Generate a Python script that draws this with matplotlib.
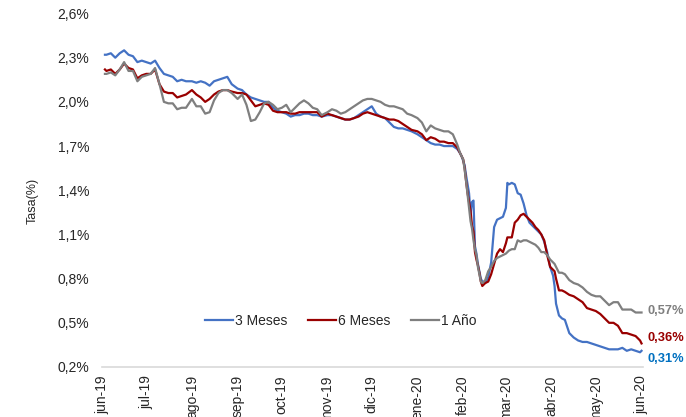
import matplotlib
matplotlib.use("Agg")
import matplotlib.pyplot as plt
import pandas as pd

plt.rcParams['font.family'] = ['Liberation Sans', 'DejaVu Sans']

dates = [
    '2019-06-03', '2019-06-04', '2019-06-07', '2019-06-10', '2019-06-13', '2019-06-16', '2019-06-19', '2019-06-22', '2019-06-25', '2019-06-28',
    '2019-07-01', '2019-07-04', '2019-07-07', '2019-07-10', '2019-07-13', '2019-07-16', '2019-07-19', '2019-07-22', '2019-07-25', '2019-07-28',
    '2019-08-01', '2019-08-04', '2019-08-07', '2019-08-10', '2019-08-13', '2019-08-16', '2019-08-19', '2019-08-22', '2019-08-25', '2019-08-28',
    '2019-09-01', '2019-09-04', '2019-09-07', '2019-09-10', '2019-09-13', '2019-09-16', '2019-09-19', '2019-09-22', '2019-09-25', '2019-09-28',
    '2019-10-01', '2019-10-04', '2019-10-07', '2019-10-10', '2019-10-13', '2019-10-16', '2019-10-19', '2019-10-22', '2019-10-25', '2019-10-28',
    '2019-11-01', '2019-11-04', '2019-11-07', '2019-11-10', '2019-11-13', '2019-11-16', '2019-11-19', '2019-11-22', '2019-11-25', '2019-11-28',
    '2019-12-01', '2019-12-04', '2019-12-07', '2019-12-10', '2019-12-13', '2019-12-16', '2019-12-19', '2019-12-22', '2019-12-25', '2019-12-28',
    '2020-01-01', '2020-01-04', '2020-01-07', '2020-01-10', '2020-01-13', '2020-01-16', '2020-01-19', '2020-01-22', '2020-01-25', '2020-01-28',
    '2020-01-30', '2020-01-31',
    '2020-02-01', '2020-02-02', '2020-02-03', '2020-02-04', '2020-02-05', '2020-02-06', '2020-02-07', '2020-02-08', '2020-02-09', '2020-02-10',
    '2020-02-11', '2020-02-12', '2020-02-13', '2020-02-14', '2020-02-16', '2020-02-18', '2020-02-20', '2020-02-22', '2020-02-24', '2020-02-26',
    '2020-02-28',
    '2020-03-01', '2020-03-02', '2020-03-03', '2020-03-05', '2020-03-07', '2020-03-09', '2020-03-11', '2020-03-13', '2020-03-15', '2020-03-17',
    '2020-03-19', '2020-03-21', '2020-03-23', '2020-03-25', '2020-03-27', '2020-03-29', '2020-03-31',
    '2020-04-02', '2020-04-03', '2020-04-04', '2020-04-06', '2020-04-08', '2020-04-10', '2020-04-13', '2020-04-16', '2020-04-19', '2020-04-22',
    '2020-04-25', '2020-04-28',
    '2020-05-01', '2020-05-04', '2020-05-07', '2020-05-10', '2020-05-13', '2020-05-16', '2020-05-19', '2020-05-22', '2020-05-25', '2020-05-28',
    '2020-05-31',
    '2020-06-01',
]

tasa_3m = [
    2.32, 2.32, 2.33, 2.30, 2.33, 2.35, 2.32, 2.31, 2.27, 2.28,
    2.27, 2.26, 2.28, 2.23, 2.19, 2.18, 2.17, 2.14, 2.15, 2.14,
    2.14, 2.13, 2.14, 2.13, 2.11, 2.14, 2.15, 2.16, 2.17, 2.12,
    2.09, 2.08, 2.05, 2.03, 2.02, 2.01, 2.00, 2.00, 1.96, 1.94,
    1.93, 1.92, 1.90, 1.91, 1.91, 1.92, 1.92, 1.91, 1.91, 1.90,
    1.91, 1.91, 1.90, 1.89, 1.88, 1.88, 1.89, 1.91, 1.93, 1.95,
    1.97, 1.92, 1.90, 1.89, 1.86, 1.83, 1.82, 1.82, 1.81, 1.80,
    1.78, 1.76, 1.74, 1.72, 1.71, 1.71, 1.70, 1.70, 1.70, 1.68,
    1.65, 1.63,
    1.60, 1.57, 1.50, 1.44, 1.38, 1.24, 1.32, 1.33, 1.02, 0.97,
    0.90, 0.85, 0.80, 0.78, 0.77, 0.81, 0.91, 1.15, 1.20, 1.21,
    1.22,
    1.28, 1.45, 1.44, 1.45, 1.44, 1.38, 1.37, 1.31, 1.23, 1.18,
    1.16, 1.14, 1.12, 1.10, 1.05, 0.98, 0.88,
    0.82, 0.75, 0.63, 0.55, 0.53, 0.52, 0.43, 0.40, 0.38, 0.37,
    0.37, 0.36,
    0.35, 0.34, 0.33, 0.32, 0.32, 0.32, 0.33, 0.31, 0.32, 0.31,
    0.30,
    0.31,
]

tasa_6m = [
    2.22, 2.21, 2.22, 2.19, 2.22, 2.26, 2.23, 2.22, 2.16, 2.18,
    2.19, 2.19, 2.22, 2.12, 2.07, 2.06, 2.06, 2.03, 2.04, 2.05,
    2.08, 2.05, 2.03, 2.00, 2.02, 2.05, 2.07, 2.08, 2.08, 2.07,
    2.06, 2.06, 2.05, 2.01, 1.97, 1.98, 1.99, 1.98, 1.94, 1.93,
    1.93, 1.93, 1.92, 1.92, 1.93, 1.93, 1.93, 1.93, 1.93, 1.90,
    1.92, 1.91, 1.90, 1.89, 1.88, 1.88, 1.89, 1.90, 1.92, 1.93,
    1.92, 1.91, 1.90, 1.89, 1.88, 1.88, 1.87, 1.85, 1.83, 1.81,
    1.80, 1.78, 1.74, 1.76, 1.75, 1.73, 1.73, 1.72, 1.72, 1.69,
    1.65, 1.63,
    1.61, 1.55, 1.46, 1.38, 1.32, 1.26, 1.16, 1.12, 0.98, 0.93,
    0.89, 0.84, 0.78, 0.75, 0.77, 0.78, 0.83, 0.90, 0.97, 1.00,
    0.98,
    1.04, 1.08, 1.08, 1.08, 1.18, 1.20, 1.23, 1.24, 1.22, 1.20,
    1.18, 1.15, 1.13, 1.10, 1.06, 0.96, 0.88,
    0.86, 0.85, 0.80, 0.72, 0.72, 0.71, 0.69, 0.68, 0.66, 0.64,
    0.60, 0.59,
    0.58, 0.56, 0.53, 0.50, 0.50, 0.48, 0.43, 0.43, 0.42, 0.41,
    0.38,
    0.36,
]

tasa_1a = [
    2.19, 2.19, 2.20, 2.18, 2.22, 2.27, 2.21, 2.21, 2.14, 2.17,
    2.18, 2.19, 2.23, 2.12, 2.00, 1.99, 1.99, 1.95, 1.96, 1.96,
    2.02, 1.97, 1.97, 1.92, 1.93, 2.01, 2.06, 2.08, 2.08, 2.06,
    2.02, 2.05, 1.98, 1.87, 1.88, 1.93, 1.99, 2.00, 1.98, 1.95,
    1.96, 1.98, 1.93, 1.96, 1.99, 2.01, 1.99, 1.96, 1.95, 1.91,
    1.93, 1.95, 1.94, 1.92, 1.93, 1.95, 1.97, 1.99, 2.01, 2.02,
    2.02, 2.01, 2.00, 1.98, 1.97, 1.97, 1.96, 1.95, 1.92, 1.91,
    1.89, 1.86, 1.80, 1.84, 1.82, 1.81, 1.80, 1.80, 1.78, 1.71,
    1.65, 1.63,
    1.61, 1.54, 1.46, 1.37, 1.28, 1.19, 1.14, 1.06, 1.00, 0.96,
    0.88, 0.83, 0.78, 0.77, 0.79, 0.85, 0.88, 0.92, 0.94, 0.95,
    0.96,
    0.97, 0.98, 0.99, 1.00, 1.00, 1.06, 1.05, 1.06, 1.06, 1.05,
    1.04, 1.03, 1.01, 0.98, 0.98, 0.96, 0.93,
    0.91, 0.90, 0.88, 0.84, 0.84, 0.83, 0.79, 0.77, 0.76, 0.74,
    0.71, 0.69,
    0.68, 0.68, 0.65, 0.62, 0.64, 0.64, 0.59, 0.59, 0.59, 0.57,
    0.57,
    0.57,
]

series_names = ['3 Meses', '6 Meses', '1 Año']
end_labels = ['0,31%', '0,36%', '0,57%']
month_ticks = ['2019-06-01', '2019-07-01', '2019-08-01', '2019-09-01', '2019-10-01', '2019-11-01',
               '2019-12-01', '2020-01-01', '2020-02-01', '2020-03-01', '2020-04-01', '2020-05-01',
               '2020-06-01']
month_labels = ['jun-19', 'jul-19', 'ago-19', 'sep-19', 'oct-19', 'nov-19', 'dic-19',
                'ene-20', 'feb-20', 'mar-20', 'abr-20', 'may-20', 'jun-20']
y_ticks = [0.2, 0.5, 0.8, 1.1, 1.4, 1.7, 2.0, 2.3, 2.6]

line_colors = ['#4472C4', '#990000', '#7F7F7F']
label_colors = ['#0070C0', '#990000', '#7F7F7F']
label_offsets = [-6, 4, 1]

x = pd.to_datetime(dates)
values = [tasa_3m, tasa_6m, tasa_1a]

fig = plt.figure(figsize=(6.86, 4.17), dpi=100)
ax = fig.add_axes([102 / 686, 50 / 417, 541 / 686, 353.5 / 417])

handles = []
for vals, name, col in zip(values, series_names, line_colors):
    h, = ax.plot(x, vals, color=col, lw=1.6, label=name, solid_joinstyle='round')
    handles.append(h)

for vals, lab, col, dy in zip(values, end_labels, label_colors, label_offsets):
    ax.annotate(lab, xy=(x[-1], vals[-1]), xytext=(4, dy), textcoords='offset points',
                ha='left', va='center', fontsize=9.3, fontweight='bold', color=col,
                annotation_clip=False)

ax.set_ylim(0.2, 2.6)
ax.set_xlim(pd.Timestamp('2019-06-01'), pd.Timestamp('2020-06-02'))
ax.set_yticks(y_ticks)
ax.set_yticklabels([f"{v:.1f}%".replace('.', ',') for v in y_ticks])
ax.set_xticks(pd.to_datetime(month_ticks))
ax.set_xticklabels(month_labels, rotation=90)
ax.tick_params(axis='both', length=0, labelsize=10, colors='#262626')
ax.tick_params(axis='y', pad=9)
ax.tick_params(axis='x', pad=6)

for s in ['top', 'right', 'left']:
    ax.spines[s].set_visible(False)
ax.spines['bottom'].set_color('#D9D9D9')
ax.spines['bottom'].set_linewidth(1.2)

ax.set_ylabel('Tasa(%)', fontsize=9, color='#262626')
ax.yaxis.set_label_coords(-0.117, 0.47)

fig.legend(handles=handles, loc='center left', bbox_to_anchor=(205 / 686, 1 - 321 / 417),
           ncol=3, frameon=False, fontsize=10, handlelength=2.0, handletextpad=0.15,
           columnspacing=1.5, borderpad=0, borderaxespad=0, labelcolor='#262626')

fig.savefig('out.png', dpi=100)
